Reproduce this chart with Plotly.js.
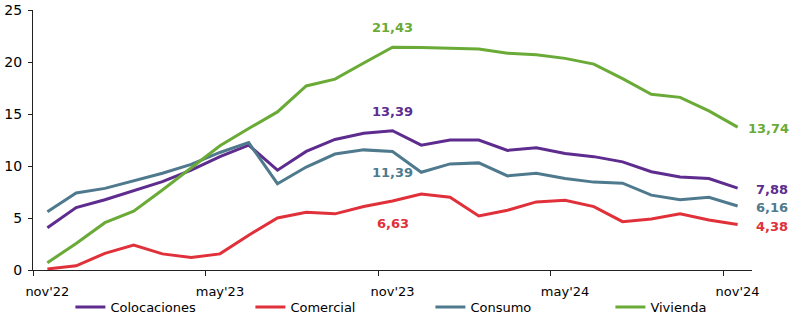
<!DOCTYPE html>
<html>
<head>
<meta charset="utf-8">
<script src="https://cdn.plot.ly/plotly-3.0.1.min.js"></script>
<style>
html,body{margin:0;padding:0;background:#fff;}
#chart{width:800px;height:326px;}
</style>
</head>
<body>
<div id="chart"></div>
<script>
const months = ["nov'22","dic'22","ene'23","feb'23","mar'23","abr'23","may'23","jun'23","jul'23","ago'23","sep'23","oct'23","nov'23","dic'23","ene'24","feb'24","mar'24","abr'24","may'24","jun'24","jul'24","ago'24","sep'24","oct'24","nov'24"];
const tickLabels = ["nov'22","may'23","nov'23","may'24","nov'24"];
const colocaciones = [4.07,6.0,6.75,7.6,8.5,9.6,10.9,12.0,9.6,11.4,12.55,13.15,13.39,12.0,12.5,12.5,11.5,11.75,11.2,10.9,10.4,9.45,8.95,8.8,7.88];
const comercial = [0.1,0.4,1.6,2.4,1.55,1.2,1.55,3.35,5.0,5.55,5.4,6.1,6.63,7.3,7.0,5.2,5.75,6.55,6.7,6.1,4.65,4.9,5.4,4.8,4.38];
const consumo = [5.6,7.4,7.85,8.55,9.3,10.15,11.3,12.25,8.3,9.9,11.15,11.55,11.39,9.4,10.2,10.3,9.05,9.3,8.8,8.45,8.35,7.2,6.75,7.0,6.16];
const vivienda = [0.7,2.55,4.55,5.65,7.7,9.8,11.95,13.6,15.2,17.7,18.35,19.9,21.43,21.4,21.3,21.25,20.85,20.7,20.35,19.8,18.4,16.9,16.6,15.3,13.74];

const names = ["Colocaciones","Comercial","Consumo","Vivienda"];
const colors = ["#5E2C8E","#E0313A","#4F7A8E","#6AAA36"];
const series = [colocaciones, comercial, consumo, vivienda];

const idx = months.map((m,i)=>i);
const traces = series.map((s,k)=>({
  x: idx, y: s, type:'scatter', mode:'lines', name: names[k],
  line:{color:colors[k], width:3}, hoverinfo:'skip'
}));

const fmt = v => v.toFixed(2).replace('.', ',');
const peak = 12, last = 24;
const annFont = c => ({family:'DejaVu Sans', size:13, color:c, weight:'bold'});
const anns = [
  {x:peak, y:vivienda[peak], text:'<b>'+fmt(vivienda[peak])+'</b>', yshift:20, font:annFont(colors[3])},
  {x:peak, y:colocaciones[peak], text:'<b>'+fmt(colocaciones[peak])+'</b>', yshift:19, font:annFont(colors[0])},
  {x:peak, y:consumo[peak], text:'<b>'+fmt(consumo[peak])+'</b>', yshift:-21, font:annFont(colors[2])},
  {x:peak, y:comercial[peak], text:'<b>'+fmt(comercial[peak])+'</b>', yshift:-22, font:annFont(colors[1])},
  {x:last, y:vivienda[last], text:'<b>'+fmt(vivienda[last])+'</b>', xanchor:'left', xshift:8, yshift:-1, font:annFont(colors[3])},
  {x:last, y:colocaciones[last], text:'<b>'+fmt(colocaciones[last])+'</b>', xanchor:'left', xshift:16, yshift:-1, font:annFont(colors[0])},
  {x:last, y:consumo[last], text:'<b>'+fmt(consumo[last])+'</b>', xanchor:'left', xshift:16, yshift:-2, font:annFont(colors[2])},
  {x:last, y:comercial[last], text:'<b>'+fmt(comercial[last])+'</b>', xanchor:'left', xshift:16, yshift:-2, font:annFont(colors[1])}
].map(a=>Object.assign({showarrow:false, xref:'x', yref:'y'}, a));

const layout = {
  width:800, height:326,
  margin:{l:33, r:48, t:10, b:56},
  paper_bgcolor:'#fff', plot_bgcolor:'#fff',
  font:{family:'DejaVu Sans', size:13, color:'#000'},
  showlegend:true,
  legend:{orientation:'h', x:0.052, xanchor:'left', yref:'container', y:0.058, yanchor:'middle',
          bgcolor:'rgba(0,0,0,0)',
          font:{family:'DejaVu Sans', size:13, color:'#000'},
          entrywidth:135, itemwidth:30, traceorder:'normal'},
  xaxis:{
    range:[-0.5, 24.5], showgrid:false, zeroline:false,
    showline:true, linecolor:'#222', linewidth:1,
    tickmode:'array', tickvals:tickLabels.map(t=>months.indexOf(t)), ticktext:tickLabels,
    ticks:'', ticklabelstandoff:9,
    minor:{tickmode:'array', tickvals:[-0.5,5.5,11.5,17.5,23.5], ticks:'outside', ticklen:5, tickcolor:'#222', tickwidth:1, showgrid:false},
    fixedrange:true
  },
  yaxis:{
    range:[0,25], tickvals:[0,5,10,15,20,25], showgrid:false, zeroline:false,
    showline:true, linecolor:'#222', linewidth:1,
    ticks:'outside', ticklen:4, tickcolor:'#222', ticklabelstandoff:3,
    tickfont:{size:14},
    fixedrange:true
  },
  annotations: anns
};
Plotly.newPlot('chart', traces, layout, {displayModeBar:false, staticPlot:true});
</script>
</body>
</html>
